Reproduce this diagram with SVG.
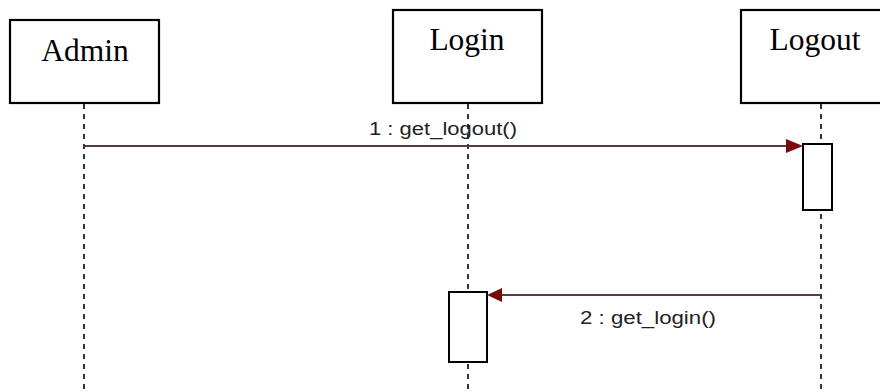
<svg xmlns="http://www.w3.org/2000/svg" width="880" height="392" viewBox="0 0 880 392">
<style>
.box{fill:#fff;stroke:#000;stroke-width:2.2}
.act{fill:#fff;stroke:#000;stroke-width:2}
.name{font-family:"Liberation Serif","Times New Roman",serif;font-size:31.5px;fill:#000;text-anchor:middle}
.life{stroke:#333;stroke-width:2;stroke-dasharray:5 5;fill:none}
.msg{stroke:#5a3a3a;stroke-width:2;fill:none}
.head{fill:#7a0a0a}
.lbl{font-family:"Liberation Sans",Arial,sans-serif;font-size:18px;fill:#222}
</style>
<rect width="880" height="392" fill="#fff"/>
<g id="lifelines">
<line class="life" x1="84" y1="104" x2="84" y2="392"/>
<line class="life" x1="468" y1="104" x2="468" y2="392"/>
<line class="life" x1="821" y1="104" x2="821" y2="392"/>
</g>
<g id="node-admin">
<rect class="box" x="10" y="20" width="149" height="83"/>
<text class="name" x="85" y="61">Admin</text>
</g>
<g id="node-login">
<rect class="box" x="393" y="10" width="149" height="93"/>
<text class="name" x="467" y="50">Login</text>
</g>
<g id="node-logout">
<rect class="box" x="741" y="10" width="150" height="93"/>
<text class="name" x="815" y="50">Logout</text>
</g>
<g id="activation-logout">
<rect class="act" x="803" y="144" width="29" height="66"/>
</g>
<g id="activation-login">
<rect class="act" x="449" y="292" width="38" height="70"/>
</g>
<g id="connectors">
<line class="msg" x1="85" y1="146" x2="790" y2="146"/>
<polygon class="head" points="803,146 786,139 786,153"/>
<text class="lbl" x="369" y="135" textLength="148" lengthAdjust="spacingAndGlyphs">1 : get_logout()</text>
<line class="msg" x1="821" y1="295" x2="498" y2="295"/>
<polygon class="head" points="487,295 502,288 502,302"/>
<text class="lbl" x="580" y="324" textLength="136" lengthAdjust="spacingAndGlyphs">2 : get_login()</text>
</g>
</svg>
